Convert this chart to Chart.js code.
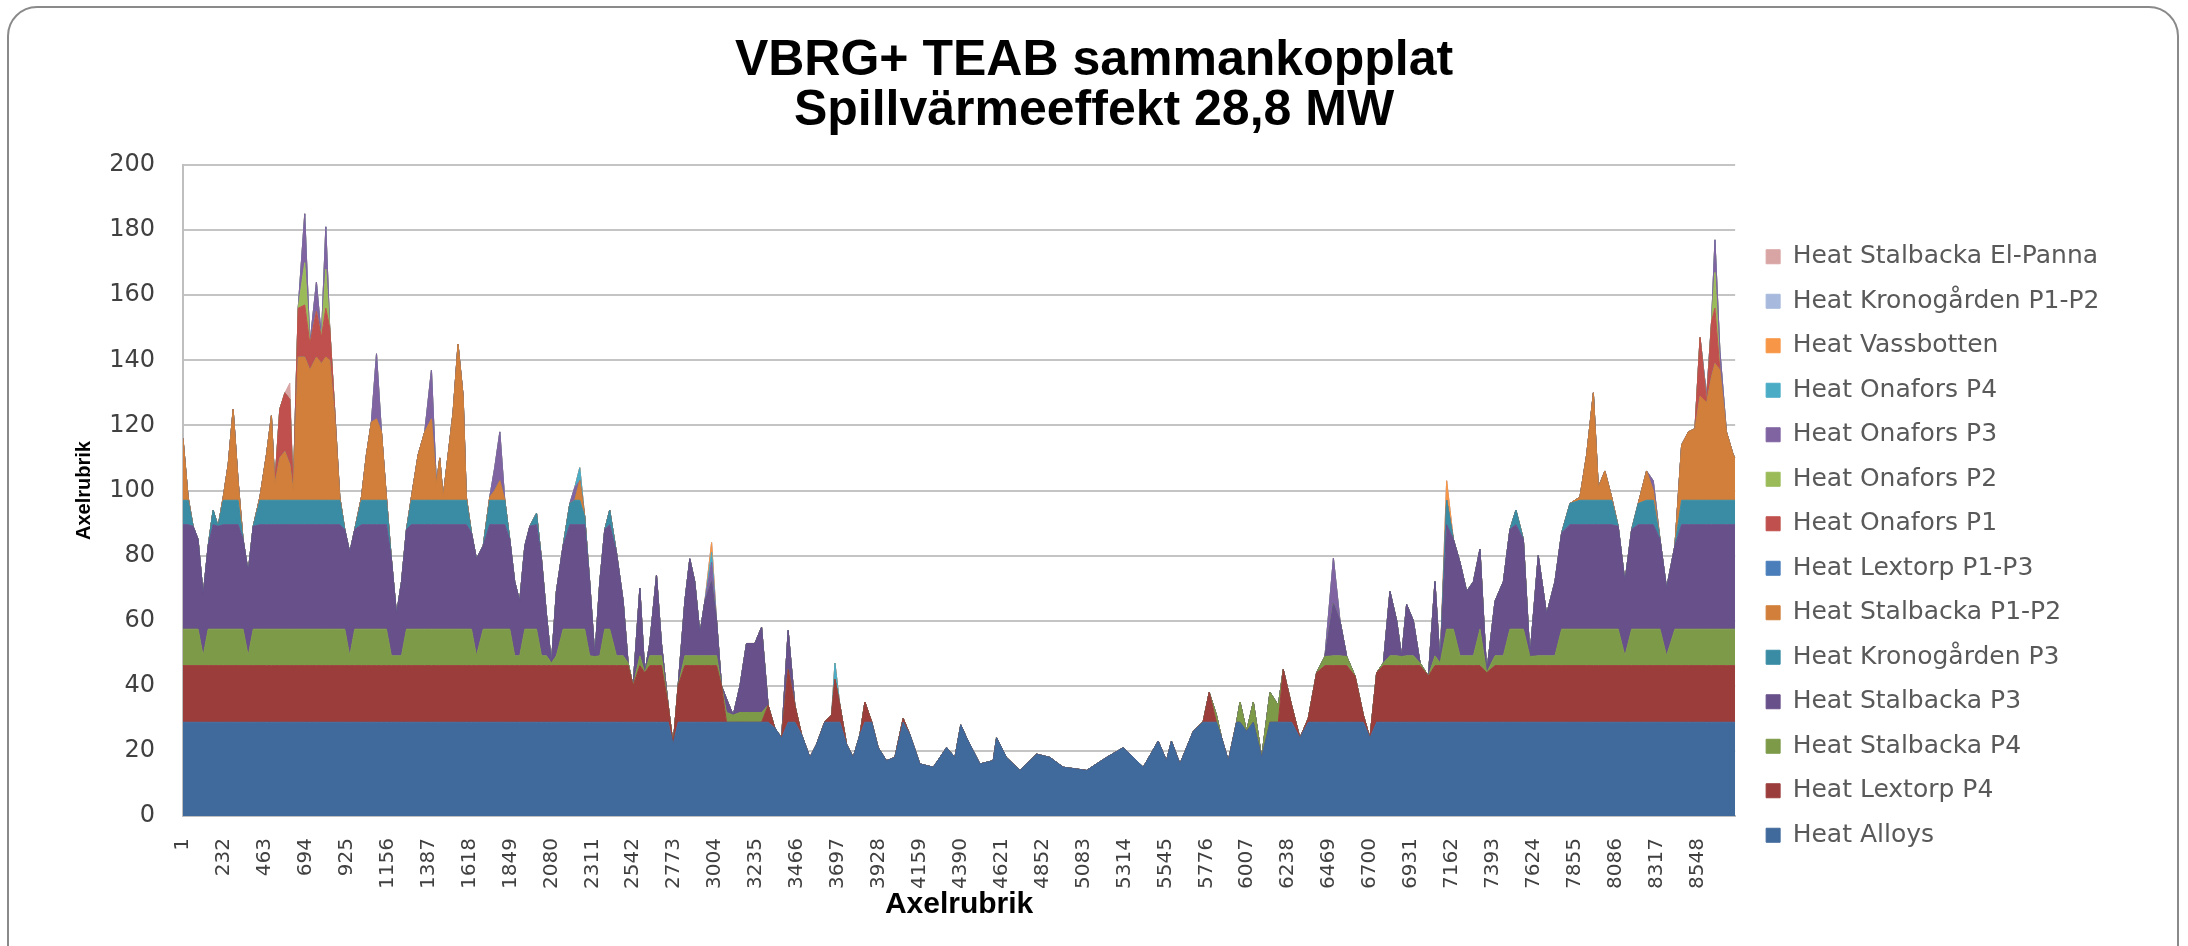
<!DOCTYPE html>
<html>
<head>
<meta charset="utf-8">
<script src="https://cdn.jsdelivr.net/npm/chart.js@4/dist/chart.umd.min.js"></script>
<style>
  html, body { margin: 0; padding: 0; background: #fff; }
  #wrap { position: relative; width: 2188px; height: 946px; overflow: hidden; }
  #frame { position: absolute; left: 7px; top: 6px; width: 2168px; height: 1000px;
           border: 2px solid #8a8a8a; border-radius: 30px; pointer-events: none; }
  canvas { position: absolute; left: 0; top: 0; }
</style>
</head>
<body>
<div id="wrap">
  <canvas id="myChart" width="2188" height="946"></canvas>
  <div id="frame"></div>
</div>
<script>
// hour of year for each sample
const hours = [
  1, 30, 58, 86, 115, 143, 171, 199, 228, 256,
  284, 312, 340, 369, 397, 435, 472, 500, 519, 547,
  576, 604, 623, 651, 688, 717, 754, 782, 807, 829,
  858, 886, 914, 942, 970, 1008, 1036, 1064, 1093, 1121,
  1149, 1177, 1206, 1234, 1262, 1290, 1328, 1365, 1403, 1431,
  1450, 1469, 1497, 1525, 1553, 1582, 1600, 1629, 1657, 1695,
  1732, 1760, 1789, 1817, 1845, 1873, 1901, 1930, 1958, 1996,
  2024, 2052, 2080, 2108, 2146, 2184, 2212, 2240, 2268, 2296,
  2325, 2353, 2381, 2409, 2447, 2485, 2513, 2541, 2579, 2607,
  2635, 2673, 2701, 2739, 2767, 2795, 2833, 2861, 2889, 2918,
  2946, 2984, 3012, 3040, 3068, 3106, 3144, 3181, 3228, 3266,
  3303, 3341, 3379, 3416, 3454, 3492, 3539, 3576, 3623, 3661,
  3680, 3708, 3746, 3783, 3821, 3849, 3887, 3924, 3971, 4018,
  4065, 4103, 4159, 4235, 4310, 4357, 4390, 4423, 4498, 4573,
  4592, 4648, 4724, 4818, 4893, 4968, 5100, 5213, 5307, 5420,
  5504, 5551, 5579, 5627, 5702, 5758, 5792, 5833, 5862, 5900,
  5947, 5966, 6003, 6041, 6088, 6135, 6182, 6210, 6257, 6304,
  6351, 6398, 6445, 6493, 6530, 6568, 6615, 6662, 6699, 6737,
  6775, 6812, 6850, 6878, 6906, 6944, 6982, 7029, 7066, 7095,
  7132, 7170, 7207, 7245, 7283, 7320, 7358, 7405, 7452, 7489,
  7523, 7565, 7602, 7649, 7696, 7743, 7781, 7828, 7884, 7922,
  7960, 7988, 8025, 8063, 8100, 8138, 8176, 8213, 8260, 8298,
  8336, 8373, 8420, 8458, 8496, 8533, 8562, 8599, 8627, 8646,
  8674, 8711, 8749, 8760
];

const xTickLabels = [1, 232, 463, 694, 925, 1156, 1387, 1618, 1849, 2080, 2311, 2542, 2773,
  3004, 3235, 3466, 3697, 3928, 4159, 4390, 4621, 4852, 5083, 5314, 5545, 5776, 6007,
  6238, 6469, 6700, 6931, 7162, 7393, 7624, 7855, 8086, 8317, 8548];

// MW per series
const heatAlloys = [
  28.8,28.8,28.8,28.8,28.8,28.8,28.8,28.8,28.8,28.8,
  28.8,28.8,28.8,28.8,28.8,28.8,28.8,28.8,28.8,28.8,
  28.8,28.8,28.8,28.8,28.8,28.8,28.8,28.8,28.8,28.8,
  28.8,28.8,28.8,28.8,28.8,28.8,28.8,28.8,28.8,28.8,
  28.8,28.8,28.8,28.8,28.8,28.8,28.8,28.8,28.8,28.8,
  28.8,28.8,28.8,28.8,28.8,28.8,28.8,28.8,28.8,28.8,
  28.8,28.8,28.8,28.8,28.8,28.8,28.8,28.8,28.8,28.8,
  28.8,28.8,28.8,28.8,28.8,28.8,28.8,28.8,28.8,28.8,
  28.8,28.8,28.8,28.8,28.8,28.8,28.8,28.8,28.8,28.8,
  28.8,28.8,28.8,28.8,22,28.8,28.8,28.8,28.8,28.8,
  28.8,28.8,28.8,28.8,28.8,28.8,28.8,28.8,28.8,28.8,
  28.8,27,24,28.8,28.8,25,18,22,28.8,28.8,
  28.8,28.8,22,18,25,28.8,28.8,21,17,18,
  28.8,25,16,15,21,18,28,24,16,17,
  24,18,14,19,18,15,14,18,21,15,
  23,17,23,16,26,28.8,28.8,28.8,24,17,
  28.8,28.8,26,28.8,18,28.8,28.8,28.8,28.8,24,
  28.8,28.8,28.8,28.8,28.8,28.8,28.8,28.8,24,28.8,
  28.8,28.8,28.8,28.8,28.8,28.8,28.8,28.8,28.8,28.8,
  28.8,28.8,28.8,28.8,28.8,28.8,28.8,28.8,28.8,28.8,
  28.8,28.8,28.8,28.8,28.8,28.8,28.8,28.8,28.8,28.8,
  28.8,28.8,28.8,28.8,28.8,28.8,28.8,28.8,28.8,28.8,
  28.8,28.8,28.8,28.8,28.8,28.8,28.8,28.8,28.8,28.8,
  28.8,28.8,28.8,28.8
];

const heatLextorpP4 = [
  17.4,17.4,17.4,17.4,17.4,17.4,17.4,17.4,17.4,17.4,
  17.4,17.4,17.4,17.4,17.4,17.4,17.4,17.4,17.4,17.4,
  17.4,17.4,17.4,17.4,17.4,17.4,17.4,17.4,17.4,17.4,
  17.4,17.4,17.4,17.4,17.4,17.4,17.4,17.4,17.4,17.4,
  17.4,17.4,17.4,17.4,17.4,17.4,17.4,17.4,17.4,17.4,
  17.4,17.4,17.4,17.4,17.4,17.4,17.4,17.4,17.4,17.4,
  17.4,17.4,17.4,17.4,17.4,17.4,17.4,17.4,17.4,17.4,
  17.4,17.4,17.4,17.4,17.4,17.4,17.4,17.4,17.4,17.4,
  17.4,17.4,17.4,17.4,17.4,17.4,17.4,11.2,17.4,15.2,
  17.4,17.4,17.4,5.2,0,11.2,17.4,17.4,17.4,17.4,
  17.4,17.4,17.4,11.2,0,0,0,0,0,0,
  5.2,0,0,16.2,5.2,0,0,0,0.2,2.2,
  13.2,5.2,0,0,0,6.2,0.2,0,0,0,
  1.2,0,0,0,0,0,0,0,0,0,
  0,0,0,0,0,0,0,0,0,0,
  0,0,0,0,0,0.2,9.2,0,0,0,
  0,0,0,0,0,0,0,16.2,5.2,0,
  1.2,15.2,17.4,17.4,17.4,17.4,14.2,2.2,0,15.2,
  17.4,17.4,17.4,17.4,17.4,17.4,17.4,14.2,17.4,17.4,
  17.4,17.4,17.4,17.4,17.4,17.4,15.2,17.4,17.4,17.4,
  17.4,17.4,17.4,17.4,17.4,17.4,17.4,17.4,17.4,17.4,
  17.4,17.4,17.4,17.4,17.4,17.4,17.4,17.4,17.4,17.4,
  17.4,17.4,17.4,17.4,17.4,17.4,17.4,17.4,17.4,17.4,
  17.4,17.4,17.4,17.4
];

const heatStalbackaP4 = [
  11.2,11.2,11.2,11.2,3,11.2,11.2,11.2,11.2,11.2,
  11.2,11.2,11.2,3,11.2,11.2,11.2,11.2,11.2,11.2,
  11.2,11.2,11.2,11.2,11.2,11.2,11.2,11.2,11.2,11.2,
  11.2,11.2,11.2,3,11.2,11.2,11.2,11.2,11.2,11.2,
  11.2,3,3,3,11.2,11.2,11.2,11.2,11.2,11.2,
  11.2,11.2,11.2,11.2,11.2,11.2,11.2,11.2,3,11.2,
  11.2,11.2,11.2,11.2,11.2,3,3,11.2,11.2,11.2,
  3,3,0.8,3,11.2,11.2,11.2,11.2,11.2,3,
  2.8,3,11.2,11.2,3,3,0.8,0,3,0,
  3,3,3,0,0,0,3,3,3,3,
  3,3,3,0,3,2.2,3,3,3,3,
  0,0,0,0,0,0,0,0,0,0,
  0,0,0,0,0,0,0,0,0,0,
  0,0,0,0,0,0,0,0,0,0,
  0,0,0,0,0,0,0,0,0,0,
  0,0,0,0,0,0,0,2.2,0,0,
  0.2,6.2,0,6.2,0,9.2,5.2,0,0,0,
  0,0,2.8,3,3,2.8,0,0,0,0,
  0.8,3,3,2.8,3,3,0.8,0,3,0.8,
  11.2,11.2,3,3,3,11.2,0,3,3,11.2,
  11.2,11.2,2.8,3,3,3,11.2,11.2,11.2,11.2,
  11.2,11.2,11.2,11.2,11.2,3,11.2,11.2,11.2,11.2,
  11.2,3,11.2,11.2,11.2,11.2,11.2,11.2,11.2,11.2,
  11.2,11.2,11.2,11.2
];

const heatStalbackaP3 = [
  32.1,32.1,31.6,27.6,18.8,25.6,32.1,31.6,32.1,32.1,
  32.1,32.1,27.6,25.8,31.6,32.1,32.1,32.1,32.1,32.1,
  32.1,32.1,32.1,32.1,32.1,32.1,32.1,32.1,32.1,32.1,
  32.1,32.1,30.6,31.8,30.6,32.1,32.1,32.1,32.1,32.1,
  32.1,29.8,12.8,22.8,30.6,32.1,32.1,32.1,32.1,32.1,
  32.1,32.1,32.1,32.1,32.1,32.1,32.1,29.6,29.8,25.6,
  32.1,32.1,32.1,32.1,27.6,22.8,16.8,25.6,31.6,32.1,
  29.8,12.8,0,19.8,25.6,32.1,32.1,32.1,32.1,22.8,
  0,22.8,30.6,32.1,31.8,16.8,0,0,20.8,0,
  3.8,24.8,3.8,0,0,0,16.8,29.8,22.8,6.8,
  16.8,22.8,10.8,0,4.2,0,8.2,21.2,21.2,26.2,
  0,0,0,12,0,0,0,0,0,0,
  0,0,0,0,0,0,0,0,0,0,
  0,0,0,0,0,0,0,0,0,0,
  0,0,0,0,0,0,0,0,0,0,
  0,0,0,0,0,0,0,0,0,0,
  0,0,0,0,0,0,0,0,0,0,
  0,0,0,16,10.8,0,0,0,0,0,
  0,19.8,10.8,0,15.8,10.8,0,0,22.8,0,
  32.1,27.6,28.8,19.8,22.8,24.6,0,16.8,22.8,30.6,
  32.1,27.6,0,30.8,12.8,22.8,29.6,32.1,32.1,32.1,
  32.1,32.1,32.1,32.1,31.6,22.8,30.6,32.1,32.1,32.1,
  27.6,20.8,25.6,32.1,32.1,32.1,32.1,32.1,32.1,32.1,
  32.1,32.1,32.1,32.1
];

const heatKronogardenP3 = [
  7.5,7.5,0,0,0,0,4.5,0,7.5,7.5,
  7.5,7.5,0,0,0,7.5,7.5,7.5,7.5,7.5,
  7.5,7.5,7.5,7.5,7.5,7.5,7.5,7.5,7.5,7.5,
  7.5,7.5,0,0,0,7.5,7.5,7.5,7.5,7.5,
  7.5,0,0,0,0,7.5,7.5,7.5,7.5,7.5,
  7.5,7.5,7.5,7.5,7.5,7.5,7.5,0,0,0,
  7.5,7.5,7.5,7.5,0,0,0,0,0,3.5,
  0,0,0,0,0,6.5,7.5,7.5,2.5,0,
  0,0,0,4.5,0,0,0,0,0,0,
  0,0,0,0,0,0,0,0,0,0,
  0,0,0,0,0,0,0,0,0,0,
  0,0,0,0,0,0,0,0,0,0,
  0,0,0,0,0,0,0,0,0,0,
  0,0,0,0,0,0,0,0,0,0,
  0,0,0,0,0,0,0,0,0,0,
  0,0,0,0,0,0,0,0,0,0,
  0,0,0,0,0,0,0,0,0,0,
  0,0,0,0,0,0,0,0,0,0,
  0,0,0,0,0,0,0,0,0,0,
  7.5,0,0,0,0,0,0,0,0,0,
  4.5,0,0,0,0,0,0,6.5,7.5,7.5,
  7.5,7.5,7.5,7.5,0,0,0,6.5,7.5,7.5,
  0,0,0,7.5,7.5,7.5,7.5,7.5,7.5,7.5,
  7.5,7.5,7.5,7.5
];

const heatStalbackaP12 = [
  19,1,0,0,0,0,0,0,1,11,
  28,6,0,0,0,1,14,26,5,13,
  15,11,3,44,44,40,44,42,44,43,
  25,1,0,0,0,1,14,24,25,21,
  1,0,0,0,0,1,14,21,25,5,
  13,1,14,27,48,32,1,0,0,0,
  1,3,6,0,0,0,0,0,0,0,
  0,0,0,0,0,0,0,6,0,0,
  0,0,0,0,0,0,0,0,0,0,
  0,0,0,0,0,0,0,0,0,0,
  0,0,0,0,0,0,0,0,0,0,
  0,0,0,0,0,0,0,0,0,0,
  0,0,0,0,0,0,0,0,0,0,
  0,0,0,0,0,0,0,0,0,0,
  0,0,0,0,0,0,0,0,0,0,
  0,0,0,0,0,0,0,0,0,0,
  0,0,0,0,0,0,0,0,0,0,
  0,0,0,0,0,0,0,0,0,0,
  0,0,0,0,0,0,0,0,0,0,
  0,0,0,0,0,0,0,0,0,0,
  0,0,0,0,0,0,0,0,1,14,
  33,4,9,1,0,0,0,0,9,3,
  0,0,0,17,21,22,32,30,38,42,
  40,21,14,13
];

const heatLextorpP13 = [
  0,0,0,0,0,0,0,0,0,0, 0,0,0,0,0,0,0,0,0,0, 0,0,0,0,0,0,0,0,0,0,
  0,0,0,0,0,0,0,0,0,0, 0,0,0,0,0,0,0,0,0,0, 0,0,0,0,0,0,0,0,0,0,
  0,0,0,0,0,0,0,0,0,0, 0,0,0,0,0,0,0,0,0,0, 0,0,0,0,0,0,0,0,0,0,
  0,0,0,0,0,0,0,0,0,0, 0,0,0,0,0,0,0,0,0,0, 0,0,0,0,0,0,0,0,0,0,
  0,0,0,0,0,0,0,0,0,0, 0,0,0,0,0,0,0,0,0,0, 0,0,0,0,0,0,0,0,0,0,
  0,0,0,0,0,0,0,0,0,0, 0,0,0,0,0,0,0,0,0,0, 0,0,0,0,0,0,0,0,0,0,
  0,0,0,0,0,0,0,0,0,0, 0,0,0,0,0,0,0,0,0,0, 0,0,0,0,0,0,0,0,0,0,
  0,0,0,0,0,0,0,0,0,0, 0,0,0,0,0,0,0,0,0,0,
  0,0,0,0
];

const heatOnaforsP1 = [
  0,0,0,0,0,0,0,0,0,0,
  0,0,0,0,0,0,0,0,0,15,
  18,20,0,15,16,8,14,8,15,10,
  2,0,0,0,0,0,0,0,0,0,
  0,0,0,0,0,0,0,0,0,0, 0,0,0,0,0,0,0,0,0,0,
  0,0,0,0,0,0,0,0,0,0, 0,0,0,0,0,0,0,0,0,0,
  0,0,0,0,0,0,0,0,0,0, 0,0,0,0,0,0,0,0,0,0,
  0,0,0,0,0,0,0,0,0,0, 0,0,0,0,0,0,0,0,0,0,
  0,0,0,0,0,0,0,0,0,0, 0,0,0,0,0,0,0,0,0,0,
  0,0,0,0,0,0,0,0,0,0, 0,0,0,0,0,0,0,0,0,0,
  0,0,0,0,0,0,0,0,0,0, 0,0,0,0,0,0,0,0,0,0,
  0,0,0,0,0,0,0,0,0,0, 0,0,0,0,0,0,0,0,0,0,
  0,0,0,0,0,0,0,0,0,0, 0,0,0,0,0,0,0,0,0,0,
  0,0,0,0,0,0,18,0,17,17,
  0,0,0,0
];

const heatOnaforsP2 = [
  0,0,0,0,0,0,0,0,0,0,
  0,0,0,0,0,0,0,0,0,0,
  0,0,0,0,13,0,0,0,12,0,
  0,0,0,0,0,0,0,0,0,0,
  0,0,0,0,0,0,0,0,0,0, 0,0,0,0,0,0,0,0,0,0,
  0,0,0,0,0,0,0,0,0,0, 0,0,0,0,0,0,0,0,0,0,
  0,0,0,0,0,0,0,0,0,0, 0,0,0,0,0,0,0,0,0,0,
  0,0,0,0,0,0,0,0,0,0, 0,0,0,0,0,0,0,0,0,0,
  0,0,0,0,0,0,0,0,0,0, 0,0,0,0,0,0,0,0,0,0,
  0,0,0,0,0,0,0,0,0,0, 0,0,0,0,0,0,0,0,0,0,
  0,0,0,0,0,0,0,0,0,0, 0,0,0,0,0,0,0,0,0,0,
  0,0,0,0,0,0,0,0,0,0, 0,0,0,0,0,0,0,0,0,0,
  0,0,0,0,0,0,0,0,0,0, 0,0,0,0,0,0,0,0,0,0,
  0,0,0,0,0,0,0,0,0,11,
  0,0,0,0
];

const heatOnaforsP3 = [
  0,0,0,0,0,0,0,0,0,0,
  0,0,0,0,0,0,0,0,0,0,
  0,0,0,0,15,0,9,0,13,0,
  0,0,0,0,0,0,0,0,20,0,
  0,0,0,0,0,0,0,0,15,0,
  0,0,0,0,0,0,0,0,0,0,
  0,7,15,0,0,0,0,0,0,0,
  0,0,0,0,0,0,4,0,0,0,
  0,0,0,0,0,0,0,0,0,0,
  0,0,0,0,0,0,0,0,0,0,
  0,6,0,0,0,0,0,0,0,0,
  0,0,0,0,0,0,0,0,0,0,
  0,0,0,0,0,0,0,0,0,0,
  0,0,0,0,0,0,0,0,0,0,
  0,0,0,0,0,0,0,0,0,0,
  0,0,0,0,0,0,0,0,0,0,
  0,0,0,0,0,0,0,0,0,0,
  0,0,0,14,0,0,0,0,0,0,
  0,0,0,0,0,0,0,0,0,0,
  0,0,0,0,0,0,0,0,0,0,
  0,0,0,0,0,0,0,0,0,0,
  0,0,0,0,0,0,0,0,0,3,
  0,0,0,0,0,0,0,2,0,10,
  6,0,0,0
];

const heatOnaforsP4 = [
  0,0,0,0,0,0,0,0,0,0, 0,0,0,0,0,0,0,0,0,0, 0,0,0,0,0,0,0,0,0,0,
  0,0,0,0,0,0,0,0,0,0, 0,0,0,0,0,0,0,0,0,0, 0,0,0,0,0,0,0,0,0,0,
  0,0,0,0,0,0,0,0,0,0,
  0,0,0,0,0,0,0,4,0,0,
  0,0,0,0,0,0,0,0,0,0,
  0,0,0,0,0,0,0,0,0,0,
  0,3,0,0,0,0,0,0,0,0,
  0,0,0,0,0,0,0,0,0,0,
  5,0,0,0,0,0,0,0,0,0,
  0,0,0,0,0,0,0,0,0,0, 0,0,0,0,0,0,0,0,0,0, 0,0,0,0,0,0,0,0,0,0,
  0,0,0,0,0,0,0,0,0,0, 0,0,0,0,0,0,0,0,0,0, 0,0,0,0,0,0,0,0,0,0,
  0,0,0,0,0,0,0,0,0,0, 0,0,0,0,0,0,0,0,0,0, 0,0,0,0,0,0,0,0,0,0,
  0,0,0,0,0,0,0,0,0,0,
  0,0,0,0
];

const heatVassbotten = [
  0,0,0,0,0,0,0,0,0,0, 0,0,0,0,0,0,0,0,0,0, 0,0,0,0,0,0,0,0,0,0,
  0,0,0,0,0,0,0,0,0,0, 0,0,0,0,0,0,0,0,0,0, 0,0,0,0,0,0,0,0,0,0,
  0,0,0,0,0,0,0,0,0,0, 0,0,0,0,0,0,0,0,0,0, 0,0,0,0,0,0,0,0,0,0,
  0,0,0,0,0,0,0,0,0,0,
  0,3,0,0,0,0,0,0,0,0,
  0,0,0,0,0,0,0,0,0,0, 0,0,0,0,0,0,0,0,0,0, 0,0,0,0,0,0,0,0,0,0,
  0,0,0,0,0,0,0,0,0,0, 0,0,0,0,0,0,0,0,0,0, 0,0,0,0,0,0,0,0,0,0,
  0,0,0,0,0,0,0,0,0,0, 0,0,0,0,0,0,0,0,0,0,
  6,0,0,0,0,0,0,0,0,0,
  0,0,0,0,0,0,0,0,0,0, 0,0,0,0,0,0,0,0,0,0, 0,0,0,0,0,0,0,0,0,0,
  0,0,0,0
];

const heatKronogardenP12 = [
  0,0,0,0,0,0,0,0,0,0, 0,0,0,0,0,0,0,0,0,0, 0,0,0,0,0,0,0,0,0,0,
  0,0,0,0,0,0,0,0,0,0, 0,0,0,0,0,0,0,0,0,0, 0,0,0,0,0,0,0,0,0,0,
  0,0,0,0,0,0,0,0,0,0, 0,0,0,0,0,0,0,0,0,0, 0,0,0,0,0,0,0,0,0,0,
  0,0,0,0,0,0,0,0,0,0, 0,0,0,0,0,0,0,0,0,0, 0,0,0,0,0,0,0,0,0,0,
  0,0,0,0,0,0,0,0,0,0, 0,0,0,0,0,0,0,0,0,0, 0,0,0,0,0,0,0,0,0,0,
  0,0,0,0,0,0,0,0,0,0, 0,0,0,0,0,0,0,0,0,0, 0,0,0,0,0,0,0,0,0,0,
  0,0,0,0,0,0,0,0,0,0, 0,0,0,0,0,0,0,0,0,0, 0,0,0,0,0,0,0,0,0,0,
  0,0,0,0,0,0,0,0,0,0, 0,0,0,0,0,0,0,0,0,0,
  0,0,0,0
];

const heatStalbackaElPanna = [
  0,0,0,0,0,0,0,0,0,0,
  0,0,0,0,0,0,0,0,0,0,
  0,5,0,0,0,0,0,0,0,0,
  0,0,0,0,0,0,0,0,0,0, 0,0,0,0,0,0,0,0,0,0, 0,0,0,0,0,0,0,0,0,0,
  0,0,0,0,0,0,0,0,0,0, 0,0,0,0,0,0,0,0,0,0, 0,0,0,0,0,0,0,0,0,0,
  0,0,0,0,0,0,0,0,0,0, 0,0,0,0,0,0,0,0,0,0, 0,0,0,0,0,0,0,0,0,0,
  0,0,0,0,0,0,0,0,0,0, 0,0,0,0,0,0,0,0,0,0, 0,0,0,0,0,0,0,0,0,0,
  0,0,0,0,0,0,0,0,0,0, 0,0,0,0,0,0,0,0,0,0, 0,0,0,0,0,0,0,0,0,0,
  0,0,0,0,0,0,0,0,0,0, 0,0,0,0,0,0,0,0,0,0, 0,0,0,0,0,0,0,0,0,0,
  0,0,0,0,0,0,0,0,0,0, 0,0,0,0,0,0,0,0,0,0,
  0,0,0,0
];

// stacking order bottom -> top
const seriesList = [
  ['Heat Alloys', heatAlloys, '#40699c'],
  ['Heat Lextorp P4', heatLextorpP4, '#9b3e3b'],
  ['Heat Stalbacka P4', heatStalbackaP4, '#7d9a48'],
  ['Heat Stalbacka P3', heatStalbackaP3, '#68508a'],
  ['Heat Kronogården P3', heatKronogardenP3, '#3a8ca4'],
  ['Heat Stalbacka P1-P2', heatStalbackaP12, '#d17f3a'],
  ['Heat Lextorp P1-P3', heatLextorpP13, '#4a7ebb'],
  ['Heat Onafors P1', heatOnaforsP1, '#c0504d'],
  ['Heat Onafors P2', heatOnaforsP2, '#9bbb59'],
  ['Heat Onafors P3', heatOnaforsP3, '#8064a2'],
  ['Heat Onafors P4', heatOnaforsP4, '#4bacc6'],
  ['Heat Vassbotten', heatVassbotten, '#f79646'],
  ['Heat Kronogården P1-P2', heatKronogardenP12, '#a7b9dc'],
  ['Heat Stalbacka El-Panna', heatStalbackaElPanna, '#d9a5a4']
];

seriesList.forEach(function (s) {
  if (s[1].length !== hours.length) throw new Error(s[0] + ' has ' + s[1].length + ' values, expected ' + hours.length);
});

// nudge legend right of the plot and keep the title centred on the whole canvas
const layoutFix = {
  id: 'layoutFix',
  afterLayout: function (chart) {
    var lg = chart.legend;
    var w = lg.width;
    lg.left = chart.chartArea.right + 11.5;
    lg.right = lg.left + w + 8;
    lg.width = lg.right - lg.left;
    if (chart.titleBlock) {
      chart.titleBlock.left = 0;
      chart.titleBlock.right = chart.width;
      chart.titleBlock.width = chart.width;
    }
  }
};

var ctx = document.getElementById('myChart');
var myChart = new Chart(ctx, {
  type: 'line',
  plugins: [layoutFix],
  data: {
    datasets: seriesList.map(function (s, i) {
      return {
        label: s[0],
        data: hours.map(function (h, j) { return { x: h, y: s[1][j] }; }),
        backgroundColor: s[2],
        borderColor: s[2],
        borderWidth: 1,
        pointRadius: 0,
        tension: 0,
        fill: i === 0 ? 'origin' : '-1'
      };
    })
  },
  options: {
    responsive: false,
    animation: false,
    devicePixelRatio: 1,
    layout: { padding: { top: 10, left: 0, right: 90, bottom: 20 } },
    plugins: {
      title: {
        display: true,
        text: ['VBRG+ TEAB sammankopplat', 'Spillvärmeeffekt 28,8 MW'],
        color: '#000',
        font: { family: 'Liberation Sans', size: 50, weight: 'bold', lineHeight: 1.0 },
        padding: { top: 26, bottom: 29 }
      },
      legend: {
        position: 'right',
        reverse: true,
        // empty legend title only pushes the list down to where the reference has it
        title: { display: true, text: ' ', font: { size: 10 }, padding: { top: 0, bottom: 144 } },
        labels: {
          boxWidth: 14,
          boxHeight: 14,
          padding: 19.5,
          color: '#595959',
          font: { family: 'DejaVu Sans', size: 25 }
        }
      },
      tooltip: { enabled: false }
    },
    scales: {
      x: {
        type: 'linear',
        min: 1,
        max: 8760,
        afterBuildTicks: function (scale) {
          scale.ticks = xTickLabels.map(function (v) { return { value: v }; });
        },
        ticks: {
          autoSkip: false,
          minRotation: 90,
          maxRotation: 90,
          padding: 14,
          color: '#404040',
          font: { family: 'DejaVu Sans', size: 20 },
          callback: function (v) { return String(v); }
        },
        grid: { display: false },
        border: { color: '#bfbfbf', width: 2 },
        title: {
          display: true,
          text: 'Axelrubrik',
          color: '#000',
          font: { family: 'Liberation Sans', size: 30, weight: 'bold' },
          padding: { top: 4, bottom: 3 }
        },
        afterFit: function (scale) { scale.height = 110; }
      },
      y: {
        stacked: true,
        min: 0,
        max: 200,
        ticks: {
          stepSize: 20,
          padding: 28,
          color: '#404040',
          font: { family: 'DejaVu Sans', size: 24 }
        },
        grid: { color: '#c4c4c4', lineWidth: 2, drawTicks: false },
        border: { color: '#bfbfbf', width: 2 },
        title: {
          display: true,
          text: 'Axelrubrik',
          color: '#000',
          font: { family: 'Liberation Sans', size: 20, weight: 'bold' },
          padding: { top: 72, bottom: 0 }
        },
        afterFit: function (scale) { scale.width = 183; }
      }
    }
  }
});
</script>
</body>
</html>
